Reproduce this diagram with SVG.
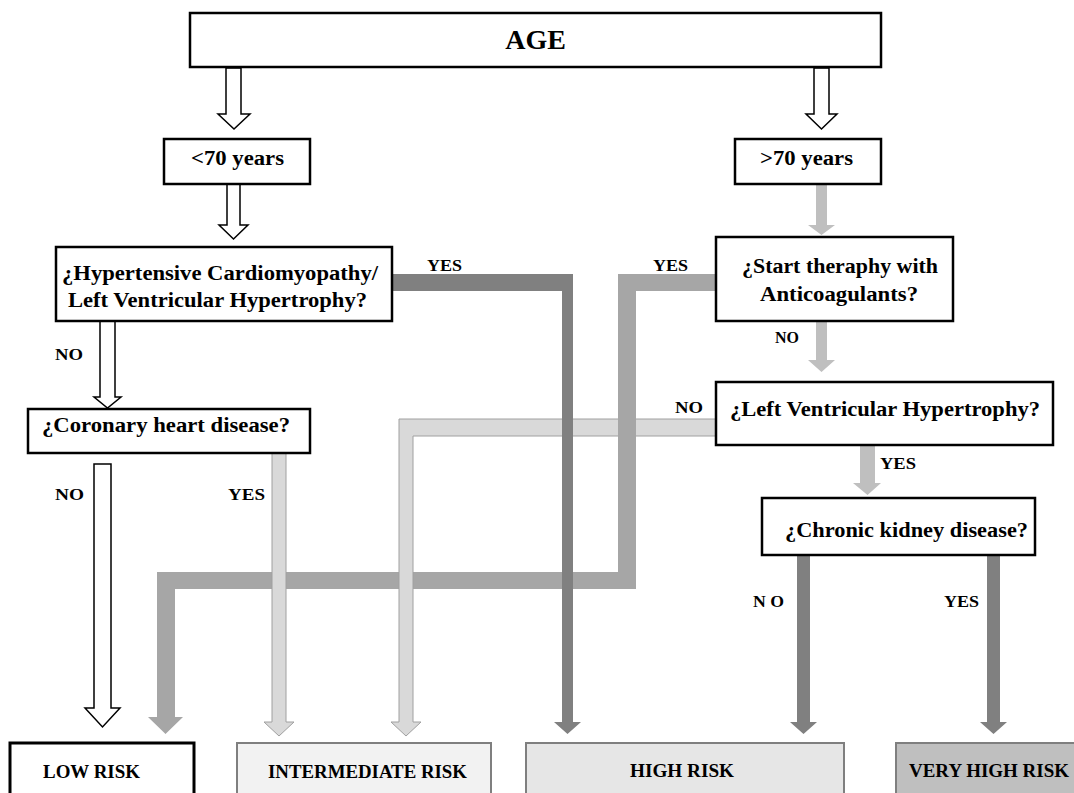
<svg xmlns="http://www.w3.org/2000/svg" width="1074" height="793" viewBox="0 0 1074 793">
<style>
.box{fill:#fff;stroke:#000;stroke-width:2.5}
.rbox{stroke:#7f7f7f;stroke-width:2}
.t{font-family:"Liberation Serif","Times New Roman",serif;font-weight:bold;fill:#000;font-size:20px}
.lab{font-family:"Liberation Serif","Times New Roman",serif;font-weight:bold;fill:#000;font-size:17px}
.risk{font-family:"Liberation Serif","Times New Roman",serif;font-weight:bold;fill:#000;font-size:18px}
.hollow{fill:#fff;stroke:#000;stroke-width:1.5;stroke-linejoin:miter}
.dark{fill:#808080}
.med{fill:#a6a6a6}
.light{fill:#d9d9d9;stroke:#a0a0a0;stroke-width:1}
.pale{fill:#bfbfbf}
</style>
<rect width="1074" height="793" fill="#fff"/>
<g id="connectors">
  <polygon class="hollow" points="226,68 241,68 241,114 250,114 234,129 218,114 226,114"/>
  <polygon class="hollow" points="814,68 829,68 829,114 837,114 821.5,129 806,114 814,114"/>
  <polygon class="hollow" points="227,184 240,184 240,225 248,225 233.5,239 219,225 227,225"/>
  <polygon class="hollow" points="100,321 115,321 115,397 121,397 107.5,408 94,397 100,397"/>
  <polygon class="hollow" points="94,464 111,464 111,708 120,708 102.5,727 85,708 94,708"/>
  <polygon class="pale" points="816,184 827,184 827,225 835,225 821.5,235 808,225 816,225"/>
  <polygon class="pale" points="816,321 827,321 827,360 835,360 821.5,372 808,360 816,360"/>
  <polygon class="pale" points="860,445 875,445 875,483 881,483 867.5,495 853,483 860,483"/>
  <polygon class="med" points="636,572 157,572 157,717 148,717 165.5,734 183,717 175,717 175,589 636,589"/>
  <polygon class="light" points="272,453 286,453 286,722 294,722 279,736 264,722 272,722"/>
  <polygon class="light" points="716,419 399,419 399,722 391,722 406,736 421,722 413,722 413,436 716,436"/>
  <polygon class="med" points="716,274 618,274 618,589 636,589 636,291 716,291"/>
  <polygon class="dark" points="392,274 573,274 573,722 581,722 567.5,734 554,722 562,722 562,291 392,291"/>
  <polygon class="dark" points="797,555 810,555 810,722 817,722 803.5,734 790,722 797,722"/>
  <polygon class="dark" points="987,555 1000,555 1000,722 1007,722 993.5,734 980,722 987,722"/>
  <text class="lab" x="427" y="271" textLength="35" lengthAdjust="spacingAndGlyphs">YES</text>
  <text class="lab" x="653" y="271" textLength="35" lengthAdjust="spacingAndGlyphs">YES</text>
  <text class="lab" x="55" y="360" textLength="28" lengthAdjust="spacingAndGlyphs">NO</text>
  <text class="lab" x="775" y="343" textLength="24" lengthAdjust="spacingAndGlyphs">NO</text>
  <text class="lab" x="675" y="413" textLength="28" lengthAdjust="spacingAndGlyphs">NO</text>
  <text class="lab" x="880" y="469" textLength="36" lengthAdjust="spacingAndGlyphs">YES</text>
  <text class="lab" x="55" y="500" textLength="29" lengthAdjust="spacingAndGlyphs">NO</text>
  <text class="lab" x="228" y="500" textLength="37" lengthAdjust="spacingAndGlyphs">YES</text>
  <text class="lab" x="753" y="607" textLength="31" lengthAdjust="spacingAndGlyphs">N O</text>
  <text class="lab" x="944" y="607" textLength="35" lengthAdjust="spacingAndGlyphs">YES</text>
</g>
<g id="age">
  <rect class="box" x="190" y="13" width="691" height="54"/>
  <text class="t" x="535.5" y="49" text-anchor="middle" style="font-size:28px">AGE</text>
</g>
<g id="under70">
  <rect class="box" x="164" y="139" width="146" height="45"/>
  <text class="t" x="191" y="165" textLength="93" lengthAdjust="spacingAndGlyphs">&lt;70 years</text>
</g>
<g id="over70">
  <rect class="box" x="735" y="139" width="146" height="45"/>
  <text class="t" x="760" y="165" textLength="93" lengthAdjust="spacingAndGlyphs">&gt;70 years</text>
</g>
<g id="hypertensive">
  <rect class="box" x="56" y="247" width="336" height="74"/>
  <text class="t" x="62" y="280" textLength="316" lengthAdjust="spacingAndGlyphs">¿Hypertensive Cardiomyopathy/</text>
  <text class="t" x="68" y="307" textLength="299" lengthAdjust="spacingAndGlyphs">Left Ventricular Hypertrophy?</text>
</g>
<g id="coronary">
  <rect class="box" x="28" y="409" width="282" height="44"/>
  <text class="t" x="42" y="432" textLength="248" lengthAdjust="spacingAndGlyphs">¿Coronary heart disease?</text>
</g>
<g id="anticoag">
  <rect class="box" x="716" y="237" width="237" height="84"/>
  <text class="t" x="742" y="273" textLength="196" lengthAdjust="spacingAndGlyphs">¿Start theraphy with</text>
  <text class="t" x="760" y="301" textLength="158" lengthAdjust="spacingAndGlyphs">Anticoagulants?</text>
</g>
<g id="lvh">
  <rect class="box" x="716" y="382" width="337" height="63"/>
  <text class="t" x="730" y="416" textLength="310" lengthAdjust="spacingAndGlyphs">¿Left Ventricular Hypertrophy?</text>
</g>
<g id="ckd">
  <rect class="box" x="762" y="498" width="273" height="57"/>
  <text class="t" x="785" y="537" textLength="243" lengthAdjust="spacingAndGlyphs">¿Chronic kidney disease?</text>
</g>
<g id="low">
  <rect x="10" y="743" width="184" height="70" fill="#fff" stroke="#000" stroke-width="3"/>
  <text class="risk" x="43" y="778" textLength="97" lengthAdjust="spacingAndGlyphs">LOW RISK</text>
</g>
<g id="intermediate">
  <rect class="rbox" x="237" y="743" width="254" height="70" fill="#f2f2f2"/>
  <text class="risk" x="268" y="778" textLength="199" lengthAdjust="spacingAndGlyphs">INTERMEDIATE RISK</text>
</g>
<g id="high">
  <rect class="rbox" x="526" y="743" width="318" height="70" fill="#e6e6e6"/>
  <text class="risk" x="630" y="777" textLength="104" lengthAdjust="spacingAndGlyphs">HIGH RISK</text>
</g>
<g id="veryhigh">
  <rect class="rbox" x="896" y="743" width="190" height="70" fill="#bfbfbf"/>
  <text class="risk" x="909" y="777" textLength="160" lengthAdjust="spacingAndGlyphs">VERY HIGH RISK</text>
</g>
</svg>
